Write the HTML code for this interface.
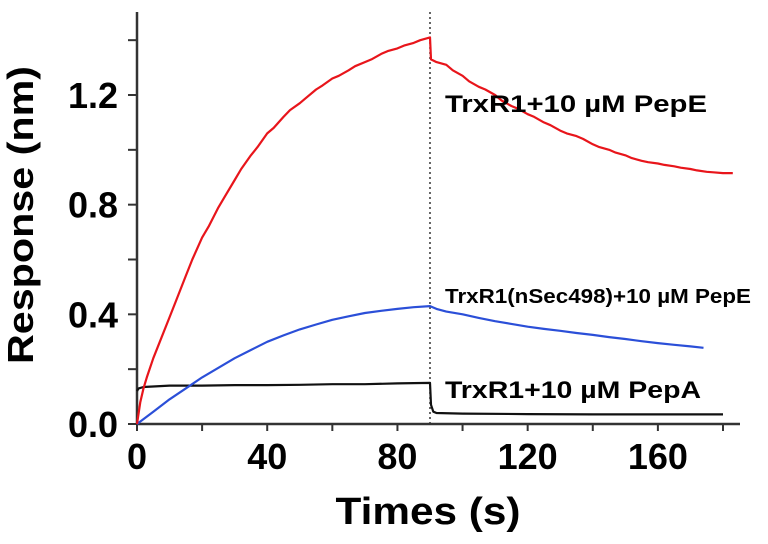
<!DOCTYPE html>
<html><head><meta charset="utf-8"><style>
html,body{margin:0;padding:0;background:#fff;}
svg{display:block;font-family:"Liberation Sans",Arial,sans-serif;font-weight:bold;}
</style></head><body>
<svg id="chart" width="768" height="544" viewBox="0 0 768 544">
<g id="axes"></g>
<g id="series"></g>
<text x="33" y="215" font-size="36" text-anchor="middle" textLength="298" lengthAdjust="spacingAndGlyphs" transform="rotate(-90 33 215)">Response (nm)</text>
<text x="428" y="524" font-size="38" text-anchor="middle" textLength="185" lengthAdjust="spacingAndGlyphs">Times (s)</text>
<text x="445" y="112" font-size="24" textLength="262" lengthAdjust="spacingAndGlyphs">TrxR1+10 µM PepE</text>
<text x="445" y="303" font-size="20" textLength="306" lengthAdjust="spacingAndGlyphs">TrxR1(nSec498)+10 µM PepE</text>
<text x="445" y="398" font-size="24" textLength="256" lengthAdjust="spacingAndGlyphs">TrxR1+10 µM PepA</text>
</svg>
<script>
const xTicks=[0,40,80,120,160];
const xMinor=[20,60,100,140,180];
const yTicks=[0.0,0.4,0.8,1.2];
const yMinor=[0.2,0.6,1.0,1.4];
const yTickLabels=["0.0","0.4","0.8","1.2"];
const redT=[0,1,2,3,5,7,10,12,15,17,20,22,25,27,30,32,35,37,40,42,45,47,50,52,55,57,60,62,65,67,70,72,75,77,80,82,85,87,90,90.3,92,95,97,100,102,105,107,110,112,115,117,120,122,125,127,130,132,135,137,140,142,145,147,150,152,155,157,160,162,165,167,170,172,175,177,180,183];
const redV=[0,0.08,0.13,0.17,0.24,0.3,0.39,0.45,0.54,0.6,0.68,0.72,0.79,0.83,0.89,0.93,0.98,1.01,1.06,1.08,1.12,1.145,1.17,1.19,1.22,1.235,1.26,1.27,1.29,1.305,1.32,1.33,1.35,1.36,1.37,1.38,1.39,1.4,1.41,1.33,1.32,1.31,1.29,1.27,1.25,1.23,1.22,1.2,1.18,1.16,1.15,1.13,1.12,1.1,1.09,1.07,1.06,1.05,1.04,1.02,1.01,1.0,0.99,0.98,0.97,0.96,0.955,0.95,0.945,0.94,0.935,0.93,0.925,0.92,0.918,0.915,0.915];
const blueT=[0,5,10,15,20,25,30,35,40,45,50,55,60,65,70,75,80,85,90,92,95,100,105,110,115,120,125,130,135,140,145,150,155,160,165,170,174];
const blueV=[0,0.045,0.09,0.13,0.17,0.205,0.24,0.27,0.3,0.323,0.345,0.363,0.38,0.393,0.405,0.413,0.42,0.426,0.43,0.42,0.41,0.4,0.387,0.375,0.365,0.355,0.347,0.34,0.332,0.325,0.317,0.31,0.302,0.295,0.289,0.283,0.278];
const blackT=[0,0.5,2,10,20,30,40,50,60,70,80,90,90.3,91,92,100,120,140,160,180];
const blackV=[0.12,0.13,0.135,0.14,0.14,0.142,0.142,0.143,0.145,0.145,0.148,0.15,0.07,0.045,0.04,0.038,0.036,0.035,0.035,0.035];
const dissocTime=90;

const X0=137,XS=(723-137)/180,Y0=424,YS=(424-95)/1.2;
const xs=t=>X0+t*XS, ys=v=>Y0-v*YS;
const NS="http://www.w3.org/2000/svg";
function mk(tag,attrs,parent){const e=document.createElementNS(NS,tag);for(const k in attrs)e.setAttribute(k,attrs[k]);parent.appendChild(e);return e;}
const axes=document.getElementById('axes'),ser=document.getElementById('series');

let yl=mk('line',{x1:X0,y1:12,x2:X0,y2:Y0,stroke:'#333','stroke-width':2.5},axes);


let xl=mk('line',{x1:X0,y1:Y0,x2:740,y2:Y0,stroke:'#333','stroke-width':2.5},axes);


xTicks.concat(xMinor).forEach(t=>{
  const l=mk('line',{x1:xs(t),y1:Y0,x2:xs(t),y2:Y0+7,stroke:'#333','stroke-width':2},axes);
  
  
});
xTicks.forEach(t=>{
  const tx=mk('text',{x:xs(t),y:469,'font-size':36,'text-anchor':'middle'},axes);
  tx.textContent=String(t);
  
  
});
yTicks.concat(yMinor).forEach(v=>{
  const l=mk('line',{x1:X0-9,y1:ys(v),x2:X0,y2:ys(v),stroke:'#333','stroke-width':2},axes);
  
  
});
yTicks.forEach((v,i)=>{
  const tx=mk('text',{x:118,y:ys(v)+13,'font-size':36,'text-anchor':'end'},axes);
  tx.textContent=yTickLabels[i];
  
  
});
let dl=mk('line',{x1:xs(dissocTime),y1:12,x2:xs(dissocTime),y2:Y0,stroke:'#333','stroke-width':1.5,'stroke-dasharray':'2,3'},axes);



function path(T,V,color,name){
  const d=T.map((t,i)=>(i?'L':'M')+xs(t).toFixed(1)+','+ys(V[i]).toFixed(1)).join(' ');
  const p=mk('path',{d:d,fill:'none',stroke:color,'stroke-width':2.2,'stroke-linejoin':'round'},ser);
  
  
}
path(blackT,blackV,'#111','series-trxr1-pepa');
path(blueT,blueV,'#2b4fd8','series-trxr1-nsec498-pepe');
path(redT,redV,'#e8151b','series-trxr1-pepe');
</script>
</body></html>
